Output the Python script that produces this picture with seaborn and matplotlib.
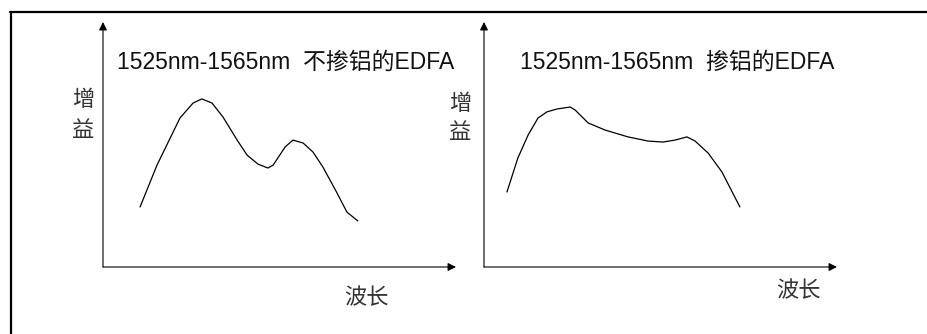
import numpy as np
import pandas as pd
import matplotlib
matplotlib.use("Agg")
import matplotlib.pyplot as plt
from matplotlib.lines import Line2D
import seaborn as sns

# gain curves (arbitrary units: wavelength 0-100, gain 0-100)
wl_no_al = [10.5, 15.3, 21.8, 25.5, 28.0, 30.9, 34.0, 38.0, 40.8, 43.9,
            46.7, 48.2, 51.6, 53.8, 56.7, 59.5, 62.3, 66.3, 69.1, 72.2]
gain_no_al = [24.5, 41.6, 60.8, 66.9, 68.6, 66.9, 61.2, 51.8, 45.7, 42.0,
              40.4, 41.6, 49.0, 51.8, 50.6, 46.9, 40.8, 30.2, 22.4, 18.8]

wl_al = [6.5, 9.6, 12.5, 15.3, 17.8, 20.7, 24.4, 25.8, 29.5, 34.3,
         40.8, 46.5, 50.7, 54.1, 57.5, 59.8, 63.5, 67.4, 72.5]
gain_al = [30.6, 44.5, 53.9, 60.8, 63.3, 64.5, 65.3, 64.1, 58.8, 55.9,
           53.1, 51.4, 51.0, 51.8, 53.1, 51.4, 46.5, 38.8, 24.5]

titles = ["1525nm-1565nm  不掺铝的EDFA", "1525nm-1565nm  掺铝的EDFA"]
ylabel_chars = ["增", "益"]
xlabel = "波长"

sns.set_theme(style="white")
plt.rcParams["font.family"] = ["Liberation Sans", "Noto Sans CJK SC", "DejaVu Sans"]

W, H = 927, 334
fig = plt.figure(figsize=(W / 100, H / 100), dpi=100)

def px_axes(left, right, top, bottom):
    return fig.add_axes([left / W, (H - bottom) / H, (right - left) / W, (bottom - top) / H])

ax1 = px_axes(103, 456, 22, 267)
ax2 = px_axes(484, 837, 22, 267)

panels = [
    (ax1, wl_no_al, gain_no_al, titles[0], (0.518, 0.837), (-0.057, 0.678, 0.555), (0.745, -0.131)),
    (ax2, wl_al, gain_al, titles[1], (0.547, 0.837), (-0.068, 0.665, 0.543), (0.892, -0.102)),
]

for ax, wl, gain, title, tpos, ypos, xpos in panels:
    df = pd.DataFrame({"wl": wl, "gain": gain})
    sns.lineplot(data=df, x="wl", y="gain", ax=ax, color="black", linewidth=0.9)
    ax.set_xlim(0, 100)
    ax.set_ylim(0, 100)
    ax.set_xticks([])
    ax.set_yticks([])
    ax.set_xlabel("")
    ax.set_ylabel("")
    for s in ax.spines.values():
        s.set_visible(False)
    ax.patch.set_alpha(0)
    # arrow axes
    arrow = dict(arrowstyle="-|>", color="black", lw=0.8, mutation_scale=12,
                 shrinkA=0, shrinkB=0)
    ax.annotate("", xy=(1, 0), xytext=(0, 0), xycoords="axes fraction",
                textcoords="axes fraction", arrowprops=arrow, annotation_clip=False)
    ax.annotate("", xy=(0, 1), xytext=(0, 0), xycoords="axes fraction",
                textcoords="axes fraction", arrowprops=arrow, annotation_clip=False)
    ax.text(tpos[0], tpos[1], title, transform=ax.transAxes, ha="center", va="center",
            fontsize=16.5, color="#111111")
    for ch, yy in zip(ylabel_chars, ypos[1:]):
        ax.text(ypos[0], yy, ch, transform=ax.transAxes, ha="center", va="center",
                fontsize=16, color="#333333", fontweight="light")
    ax.text(xpos[0], xpos[1], xlabel, transform=ax.transAxes, ha="center", va="center",
            fontsize=16, color="#333333", fontweight="light")

# outer frame (top and left edges only, the rest runs off the picture)
fig.add_artist(Line2D([10 / W, 1], [1 - 11.5 / H, 1 - 11.5 / H], transform=fig.transFigure,
                      color="black", lw=1.6))
fig.add_artist(Line2D([10.5 / W, 10.5 / W], [0, 1 - 11.5 / H], transform=fig.transFigure,
                      color="black", lw=1.6))

fig.savefig("out.png", dpi=100, facecolor="white")
